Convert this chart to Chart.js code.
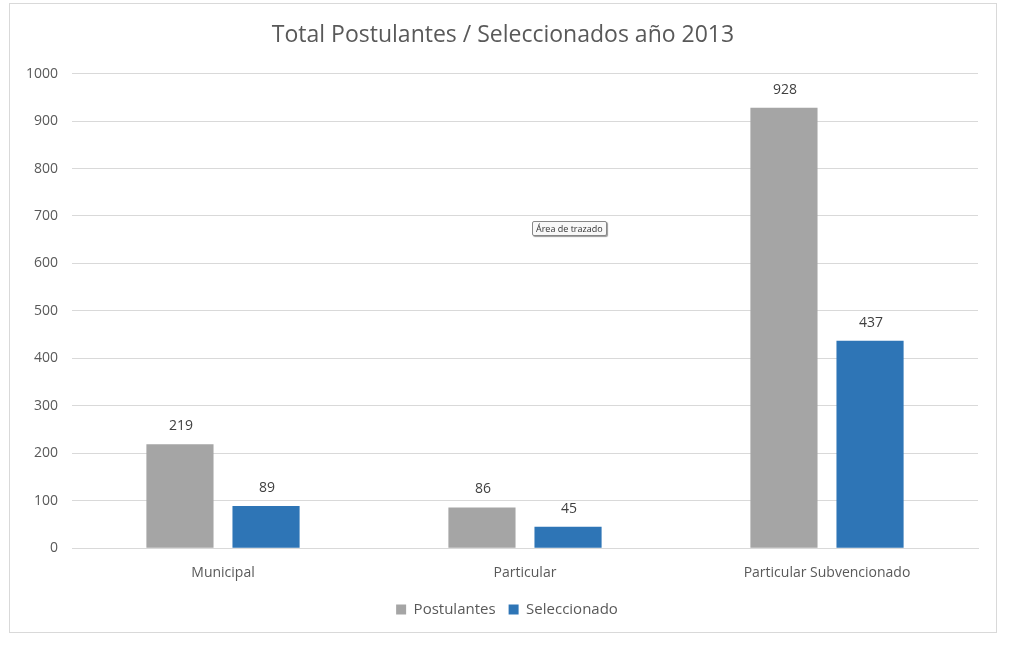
<!DOCTYPE html>
<html><head><meta charset="utf-8">
<script src="https://cdn.jsdelivr.net/npm/chart.js@4/dist/chart.umd.min.js"></script>
<style>
html,body{margin:0;padding:0;background:#fff;}
#frame{position:absolute;left:9px;top:3px;width:988px;height:630px;border:1px solid #d9d9d9;box-sizing:border-box;}
#wrap{position:absolute;left:0;top:0;width:986px;height:628px;}
#tip{position:absolute;left:532px;top:221px;font:9px "Open Sans",sans-serif;color:#333;background:#f8f8f8;border:1px solid #888;border-radius:2px;padding:0 3px;box-shadow:1px 1px 1px #999;line-height:13px;}
</style></head><body>
<div id="frame"><div id="wrap"><canvas id="c"></canvas></div></div>
<div id="tip">Área de trazado</div>
<script>
const categories = ["Municipal", "Particular", "Particular Subvencionado"];
const postulantes = [219, 86, 928];
const seleccionado = [89, 45, 437];
const yTicks = [0, 100, 200, 300, 400, 500, 600, 700, 800, 900, 1000];

const valueLabels = {
  id: 'valueLabels',
  afterDatasetsDraw(chart) {
    const ctx = chart.ctx;
    ctx.save();
    ctx.font = '14px "Open Sans", sans-serif';
    ctx.fillStyle = '#404040';
    ctx.textAlign = 'center';
    ctx.textBaseline = 'bottom';
    chart.data.datasets.forEach((ds, i) => {
      chart.getDatasetMeta(i).data.forEach((bar, j) => {
        ctx.fillText(String(ds.data[j]), bar.x + 1, bar.y - 11);
      });
    });
    ctx.restore();
  }
};

const shiftBoxes = {
  id: 'shiftBoxes',
  afterLayout(chart) {
    const t = chart.titleBlock, l = chart.legend;
    if (t) { t.left += 9; t.right += 9; }
    if (l) { l.left += 13; l.right += 13; }
  }
};

new Chart(document.getElementById('c'), {
  type: 'bar',
  data: {
    labels: categories,
    datasets: [
      { label: 'Postulantes', data: postulantes, backgroundColor: '#a5a5a5', barPercentage: 0.78, categoryPercentage: 0.57 },
      { label: 'Seleccionado', data: seleccionado, backgroundColor: '#2e75b6', barPercentage: 0.78, categoryPercentage: 0.57 }
    ]
  },
  options: {
    responsive: true,
    maintainAspectRatio: false,
    animation: false,
    layout: { padding: { left: 0, right: 18, top: 0, bottom: 5 } },
    plugins: {
      title: { display: true, text: 'Total Postulantes / Seleccionados año 2013', color: '#595959',
        font: { family: '"Open Sans", sans-serif', size: 23, weight: 'normal' }, padding: { top: 18, bottom: 24 } },
      legend: { position: 'bottom', labels: { color: '#595959', font: { family: '"Open Sans", sans-serif', size: 15 }, boxWidth: 10, boxHeight: 10, padding: 13 } },
      tooltip: { enabled: false }
    },
    scales: {
      x: {
        grid: { display: false },
        border: { color: '#d9d9d9' },
        ticks: { color: '#595959', font: { family: '"Open Sans", sans-serif', size: 14 }, padding: 8 }
      },
      y: {
        min: 0, max: 1000,
        afterBuildTicks(scale) { scale.ticks = yTicks.map(v => ({ value: v })); },
        afterFit(scale) { scale.width = 62; },
        grid: { color: '#d9d9d9', drawTicks: false },
        border: { display: false },
        ticks: { color: '#595959', font: { family: '"Open Sans", sans-serif', size: 14 }, padding: 14,
          callback: (v) => String(v) }
      }
    }
  },
  plugins: [valueLabels, shiftBoxes]
});
</script>
</body></html>
